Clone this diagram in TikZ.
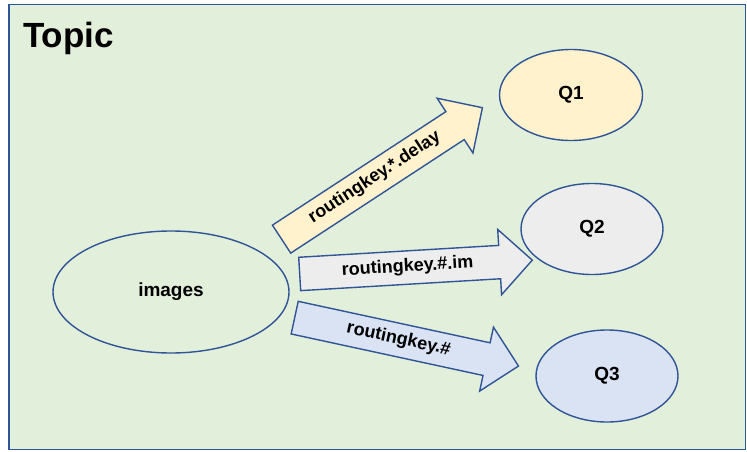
\documentclass[tikz,border=0pt]{standalone}
\usepackage{fontspec}
\setmainfont{Liberation Sans}
\usetikzlibrary{shapes.geometric,shapes.arrows}
\definecolor{topicgreen}{HTML}{E2EFDA}
\definecolor{edgeblue}{HTML}{2F5597}
\definecolor{qyellow}{HTML}{FFF2CC}
\definecolor{qgray}{HTML}{EDEDED}
\definecolor{qblue}{HTML}{DAE3F3}

\begin{document}
\begin{tikzpicture}[x=1pt,y=-1pt]
\tikzstyle{queue}=[draw=edgeblue, line width=1.4pt, ellipse, inner sep=0pt, font=\bfseries\fontsize{19}{22}\selectfont]
\tikzstyle{route}=[draw=edgeblue, line width=1.4pt, single arrow, single arrow head extend=16pt, single arrow head indent=0pt, inner xsep=4pt, inner ysep=9pt, text height=11pt, text depth=3pt, anchor=tail, font=\bfseries\fontsize{18}{20}\selectfont]
\useasboundingbox (0,0) rectangle (747,452);
\draw [edgeblue, line width=1.3pt, fill=topicgreen] (9,4.5) rectangle (745.5,449.5);
\node [anchor=base west, inner sep=0pt, font=\bfseries\fontsize{35}{38}\selectfont] (topic) at (23,48) {Topic};
\node [queue, minimum width=236pt, minimum height=122pt] (images) at (171,292) {images};
\node [queue, fill=qyellow, minimum width=143pt, minimum height=91pt] (q1) at (571,95) {Q1};
\node [queue, fill=qgray, minimum width=142pt, minimum height=91pt] (q2) at (592,229) {Q2};
\node [queue, fill=qblue, minimum width=142pt, minimum height=92pt] (q3) at (607,376) {Q3};
\node [route, fill=qyellow, rotate=33.2, minimum height=240pt] (delay) at (281,239.5) {routingkey.*.delay};
\node [route, fill=qgray, rotate=3.4, minimum height=233pt] (im) at (299,274) {routingkey.\#.im};
\node [route, fill=qblue, rotate=-12.2, minimum height=229pt] (all) at (294,317.5) {routingkey.\#};
\end{tikzpicture}
\end{document}
